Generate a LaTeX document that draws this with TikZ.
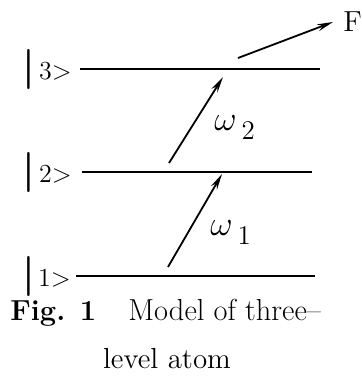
\documentclass[tikz,border=0pt]{standalone}
\usepackage{amsmath,amssymb}
\usepackage{tikz}
\usetikzlibrary{positioning,arrows.meta}
\usepackage{xcolor}

\newcommand{\ketbar}{{\fontsize{20}{20}\selectfont\bfseries |}}
\newcommand{\subdig}[1]{\hspace{2.5pt}\raisebox{-4.5pt}{\fontsize{13.5}{14}\selectfont #1}}

\begin{document}
\begin{tikzpicture}[x=0.5pt,y=-0.5pt,node distance=2pt and 3pt,
  lvl/.style={line width=0.9pt},
  trans/.style={line width=0.9pt,-{Stealth[length=8pt,width=3.5pt]}},
  ket/.style={font=\fontsize{13}{14}\selectfont,inner sep=0pt},
  freq/.style={font=\fontsize{17}{18}\selectfont,inner sep=0pt},
  captext/.style={font=\fontsize{14.5}{16}\selectfont,inner sep=0pt}]
\useasboundingbox (0,0) rectangle (362,376);
\coordinate (l3a) at (80,69);
\coordinate (l3b) at (320,69);
\coordinate (l2a) at (82,172);
\coordinate (l2b) at (312,172);
\coordinate (l1a) at (76,276);
\coordinate (l1b) at (315,276);
\draw[lvl] (l3a) -- (l3b);
\draw[lvl] (l2a) -- (l2b);
\draw[lvl] (l1a) -- (l1b);
\node[ket,anchor=west] (k3) at (22,69) {\ketbar\hspace{2pt}3>};
\node[ket,anchor=west] (k2) at (22,172) {\ketbar\hspace{2pt}2>};
\node[ket,anchor=west] (k1) at (22,276) {\ketbar\hspace{1.5pt}1>};
\coordinate (a1) at (168,267);
\coordinate (b1) at (222,174);
\coordinate (a2) at (169,163);
\coordinate (b2) at (223,77);
\coordinate (f1) at (238,58);
\coordinate (f2) at (333,22);
\draw[trans] (a1) -- (b1);
\draw[trans] (a2) -- (b2);
\draw[trans] (f1) -- (f2);
\node[freq,anchor=base west] (w1) at (210,235) {$\omega$\subdig{1}};
\node[freq,anchor=base west] (w2) at (214,130) {$\omega$\subdig{2}};
\node[captext,right=5pt of f2] (F) {F};
\node[captext,anchor=base west] (fig) at (10,320) {\textbf{Fig. 1}};
\node[captext,anchor=base west] (title) at (128,320) {\fontsize{15.2}{16}\selectfont Model of three--};
\node[captext,anchor=base] (title2) at (167,368) {level atom};
\end{tikzpicture}
\end{document}
